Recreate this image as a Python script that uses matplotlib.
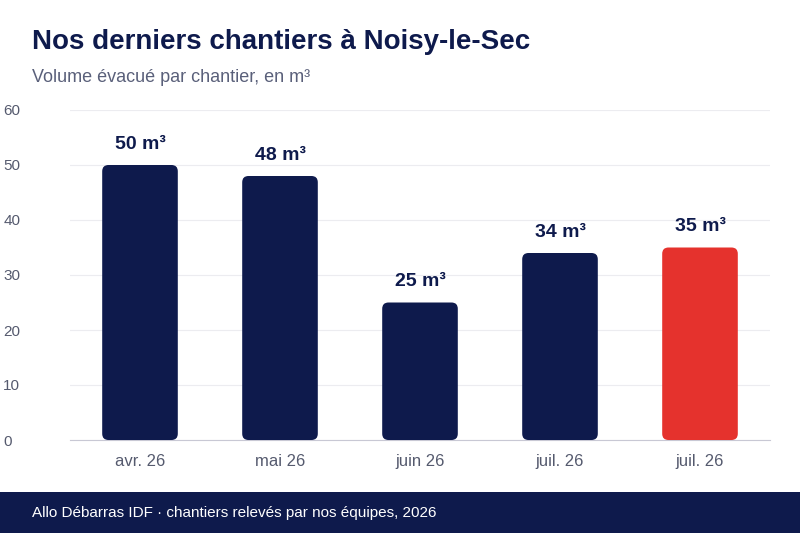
import matplotlib
matplotlib.use("Agg")
import matplotlib.pyplot as plt
from matplotlib.patches import FancyBboxPatch, Rectangle

categories = ["avr. 26", "mai 26", "juin 26", "juil. 26", "juil. 26"]
values = [50, 48, 25, 34, 35]
labels = ["50 m³", "48 m³", "25 m³", "34 m³", "35 m³"]
colors = ["#0e1a4c"] * 4 + ["#e5322d"]
yticks = [0, 10, 20, 30, 40, 50, 60]

plt.rcParams['font.family'] = ['Liberation Sans', 'DejaVu Sans']
fig = plt.figure(figsize=(8, 5.33), dpi=100)
ax = fig.add_axes([0.0875, 1 - 440/533, 0.875, 330/533])
ax.set_xlim(-0.5, len(values) - 0.5)
ax.set_ylim(0, 60)
w = 0.54
px_x = 700 / 5
px_y = 330 / 60
for i, (v, c, l) in enumerate(zip(values, colors, labels)):
    p = FancyBboxPatch((i - w/2, 0), w, v,
                       boxstyle="round,pad=0,rounding_size=0.045",
                       mutation_aspect=px_x/px_y, fc=c, ec="none", zorder=3)
    ax.add_patch(p)
    ax.text(i, v + 2.2, l, ha="center", va="bottom", fontsize=14,
            fontweight="bold", color="#0e1a4c", zorder=4)
ax.set_xticks(range(len(values)))
ax.set_xticklabels(categories, fontsize=12, color="#555a6e")
ax.set_yticks(yticks)
ax.set_yticklabels([str(t) for t in yticks], fontsize=11, color="#555a6e")
ax.tick_params(length=0)
ax.tick_params(axis="x", pad=10)
ax.tick_params(axis="y", pad=28)
for lab in ax.get_yticklabels():
    lab.set_horizontalalignment("left")
ax.yaxis.set_tick_params(pad=48)
ax.grid(axis="y", color="#ececf0", lw=0.8, zorder=0)
for s in ["top", "right", "left"]:
    ax.spines[s].set_visible(False)
ax.spines["bottom"].set_color("#c8c8d4")

fig.text(32/800, 1 - 42/533, "Nos derniers chantiers à Noisy-le-Sec", fontsize=20,
         fontweight="bold", color="#0e1a4c", va="center")
fig.text(32/800, 1 - 77/533, "Volume évacué par chantier, en m³", fontsize=13,
         color="#5a607a", va="center")
fig.add_artist(Rectangle((0, 0), 1, 41/533, transform=fig.transFigure,
                         fc="#0e1a4c", ec="none"))
fig.text(32/800, 20/533, "Allo Débarras IDF · chantiers relevés par nos équipes, 2026",
         fontsize=11, color="white", va="center")
fig.savefig("out.png", dpi=100)
